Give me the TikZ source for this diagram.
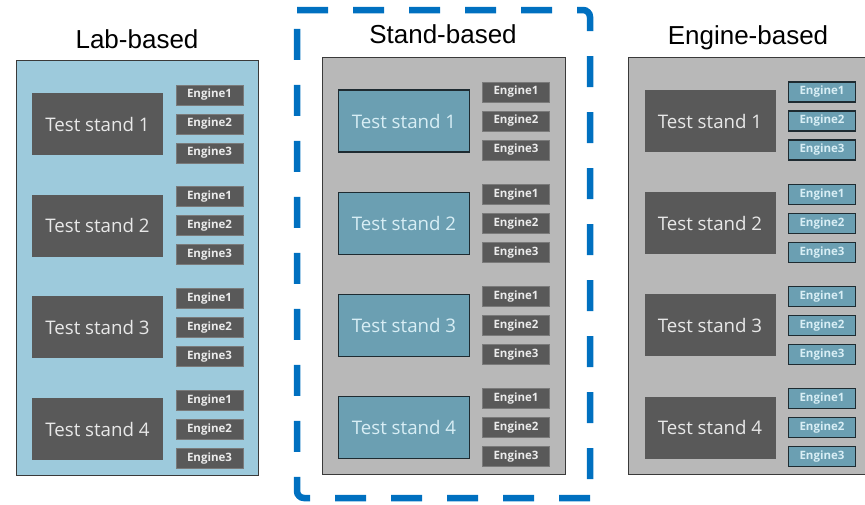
\documentclass[tikz,border=0pt]{standalone}
\usepackage{fontspec}
\setmainfont{Open Sans}
\newfontfamily\titlefont{Liberation Sans}
\definecolor{labbg}{HTML}{9DCADC}
\definecolor{graybg}{HTML}{B8B8B8}
\definecolor{panelline}{HTML}{3A3A3A}
\definecolor{darkbox}{HTML}{595959}
\definecolor{bluebox}{HTML}{6B9FB2}
\definecolor{blueline}{HTML}{1E2B31}
\definecolor{lighttext}{HTML}{E8E8E8}
\definecolor{bluetext}{HTML}{D8EEF5}
\definecolor{selblue}{HTML}{0070C0}
\begin{document}
\begin{tikzpicture}[x=1pt,y=-1pt,
  panel/.style={draw=panelline, line width=1pt, inner sep=0pt},
  title/.style={font=\titlefont\fontsize{26}{28}\selectfont, anchor=base, text=black},
  standdark/.style={fill=darkbox, minimum width=131pt, minimum height=62pt, inner sep=0pt,
     text=lighttext, font=\fontsize{18.7}{20}\selectfont},
  standblue/.style={fill=bluebox, draw=blueline, line width=1.3pt, minimum width=131pt, minimum height=62pt, inner sep=0pt,
     text=bluetext, font=\fontsize{18.7}{20}\selectfont},
  engdark/.style={fill=darkbox, draw=darkbox!80!white, line width=0.4pt, minimum width=67pt, minimum height=20pt, inner sep=0pt,
     text=white!92!black, font=\bfseries\fontsize{11.5}{12}\selectfont},
  engblue/.style={fill=bluebox, draw=blueline, line width=1.3pt, minimum width=67pt, minimum height=20pt, inner sep=0pt,
     text=bluetext, font=\bfseries\fontsize{11.5}{12}\selectfont},
  selline/.style={draw=selblue, line width=6.5pt, dash pattern=on 31pt off 25pt, rounded corners=7pt}
]
\useasboundingbox (0,0) rectangle (865,504);
\clip (0,0) rectangle (865,504);
% titles
\node[title] (t1) at (137,48) {Lab-based};
\node[title] (t2) at (443,43) {Stand-based};
\node[title] (t3) at (748,44) {Engine-based};
% panels
\node[panel, fill=labbg, minimum width=242pt, minimum height=415pt] (P1) at (137,267.5) {};
\node[panel, fill=graybg, minimum width=243pt, minimum height=417pt] (P2) at (443.5,265.5) {};
\node[panel, fill=graybg, minimum width=252pt, minimum height=417pt] (P3) at (754,265.5) {};
% stands and engines
\foreach \i in {1,2,3,4}{
  \pgfmathsetmacro{\ya}{124+101.67*(\i-1)}
  \pgfmathsetmacro{\yb}{121+102.17*(\i-1)}
  \node[standdark] (L\i) at (97.5,\ya) {Test stand \i};
  \node[standblue] (S\i) at (404,\yb) {Test stand \i};
  \node[standdark] (E\i) at (710,\yb) {Test stand \i};
  \foreach \j/\d in {1/-29,2/0,3/29}{
    \node[engdark] (L\i e\j) at (209.5,\ya+\d) {Engine\j};
    \node[engdark] (S\i e\j) at (516,\yb+\d) {Engine\j};
    \node[engblue] (E\i e\j) at (822,\yb+\d) {Engine\j};
  }
}
% selection frame
\coordinate (fTL) at (297,10);
\coordinate (fTR) at (590,10);
\coordinate (fBR) at (590,498);
\coordinate (fBL) at (297,498);
\draw[selline] (fTL) -- (fTR) -- (fBR);
\draw[selline] (fBR) -- (fBL) -- (fTL);
\end{tikzpicture}
\end{document}
